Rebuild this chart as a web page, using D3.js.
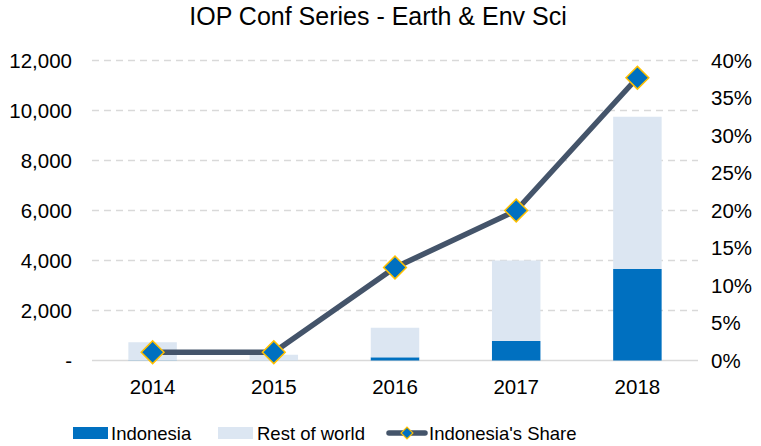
<!DOCTYPE html>
<html>
<head>
<meta charset="utf-8">
<script src="https://cdn.jsdelivr.net/npm/d3@7"></script>
<style>
  body { margin: 0; background: #fff; }
  text { font-family: "Liberation Sans", Arial, sans-serif; fill: #000; }
</style>
</head>
<body>
<div id="container"></div>
<script>
// Chart data
var years = ["2014", "2015", "2016", "2017", "2018"];
var indonesia = [8, 3, 128, 780, 3660];
var restOfWorld = [722, 227, 1182, 3220, 6090];
var share = [0.011, 0.011, 0.124, 0.20, 0.377];
var leftTicks = [0, 2000, 4000, 6000, 8000, 10000, 12000];
var rightTicks = [0, 0.05, 0.10, 0.15, 0.20, 0.25, 0.30, 0.35, 0.40];

var width = 761,
    height = 446;
var margin = {top: 60.5, right: 63, bottom: 85.5, left: 92};
var labelSize = "20.5px";

var svg = d3.select("#container")
            .append("svg")
              .attr("width", width)
              .attr("height", height);

// Title
svg.append("text")
    .attr("x", 378)
    .attr("y", 25)
    .attr("text-anchor", "middle")
    .style("font-size", "25px")
    .text("IOP Conf Series - Earth & Env Sci");

// Scales
var x = d3.scaleBand()
          .domain(years)
          .range([margin.left, width - margin.right])
          .paddingInner(0.6)
          .paddingOuter(0.3);

var y = d3.scaleLinear()
          .domain([0, 12000])
          .range([height - margin.bottom, margin.top]);

var y2 = d3.scaleLinear()
           .domain([0, 0.40])
           .range([height - margin.bottom, margin.top]);

// Gridlines
svg.append("g")
  .selectAll("line")
  .data(leftTicks)
  .enter()
  .append("line")
    .attr("x1", margin.left)
    .attr("x2", width - margin.right)
    .attr("y1", function(d) { return y(d); })
    .attr("y2", function(d) { return y(d); })
    .attr("stroke", "#d9d9d9")
    .attr("stroke-width", 1.5)
    .attr("stroke-dasharray", function(d) { return d === 0 ? null : "7,5"; });

// Left axis labels
var fmt = d3.format(",");
svg.append("g")
  .selectAll("text")
  .data(leftTicks)
  .enter()
  .append("text")
    .attr("x", 72)
    .attr("y", function(d) { return y(d); })
    .attr("dy", "0.35em")
    .attr("text-anchor", "end")
    .style("font-size", labelSize)
    .text(function(d) { return d === 0 ? "-" : fmt(d); });

// Right axis labels
svg.append("g")
  .selectAll("text")
  .data(rightTicks)
  .enter()
  .append("text")
    .attr("x", 711)
    .attr("y", function(d) { return y2(d); })
    .attr("dy", "0.35em")
    .attr("text-anchor", "start")
    .style("font-size", labelSize)
    .text(function(d) { return Math.round(d * 100) + "%"; });

// X labels
svg.append("g")
  .selectAll("text")
  .data(years)
  .enter()
  .append("text")
    .attr("x", function(d) { return x(d) + x.bandwidth() / 2; })
    .attr("y", 394)
    .attr("text-anchor", "middle")
    .style("font-size", labelSize)
    .text(function(d) { return d; });

// Stacked bars
var rows = years.map(function(d, i) {
  return {year: d, indonesia: indonesia[i], rest: restOfWorld[i]};
});
var stack = d3.stack().keys(["indonesia", "rest"]);
var colors = {indonesia: "#0070C0", rest: "#DCE6F2"};

svg.append("g")
  .selectAll("g")
  .data(stack(rows))
  .enter()
  .append("g")
    .attr("fill", function(d) { return colors[d.key]; })
  .selectAll("rect")
  .data(function(d) { return d; })
  .enter()
  .append("rect")
    .attr("x", function(d) { return x(d.data.year); })
    .attr("width", x.bandwidth())
    .attr("y", function(d) { return y(d[1]); })
    .attr("height", function(d) { return y(d[0]) - y(d[1]); });

// Share line
var line = d3.line()
             .x(function(d, i) { return x(years[i]) + x.bandwidth() / 2; })
             .y(function(d) { return y2(d); });

svg.append("path")
    .datum(share)
    .attr("d", line)
    .attr("fill", "none")
    .attr("stroke", "#44546A")
    .attr("stroke-width", 5.5)
    .attr("stroke-linejoin", "round");

var diamond = d3.symbol().type(d3.symbolSquare).size(260);
svg.append("g")
  .selectAll("path")
  .data(share)
  .enter()
  .append("path")
    .attr("d", diamond)
    .attr("transform", function(d, i) {
      return "translate(" + (x(years[i]) + x.bandwidth() / 2) + "," + y2(d) + ") rotate(45)";
    })
    .attr("fill", "#0070C0")
    .attr("stroke", "#FFC000")
    .attr("stroke-width", 1.5);

// Legend
var legend = svg.append("g");
legend.append("rect")
    .attr("x", 73).attr("y", 427).attr("width", 35).attr("height", 12)
    .attr("fill", "#0070C0");
legend.append("text")
    .attr("x", 111).attr("y", 440)
    .style("font-size", "18.5px")
    .text("Indonesia");

legend.append("rect")
    .attr("x", 218).attr("y", 427).attr("width", 35).attr("height", 12)
    .attr("fill", "#DCE6F2");
legend.append("text")
    .attr("x", 257).attr("y", 440)
    .style("font-size", "18.5px")
    .text("Rest of world");

legend.append("line")
    .attr("x1", 389).attr("x2", 425).attr("y1", 433).attr("y2", 433)
    .attr("stroke", "#44546A").attr("stroke-width", 5.5)
    .attr("stroke-linecap", "round");
legend.append("path")
    .attr("d", d3.symbol().type(d3.symbolSquare).size(70))
    .attr("transform", "translate(407,433) rotate(45)")
    .attr("fill", "#0070C0")
    .attr("stroke", "#FFC000")
    .attr("stroke-width", 1.2);
legend.append("text")
    .attr("x", 429).attr("y", 440)
    .style("font-size", "18.5px")
    .text("Indonesia's Share");
</script>
</body>
</html>
